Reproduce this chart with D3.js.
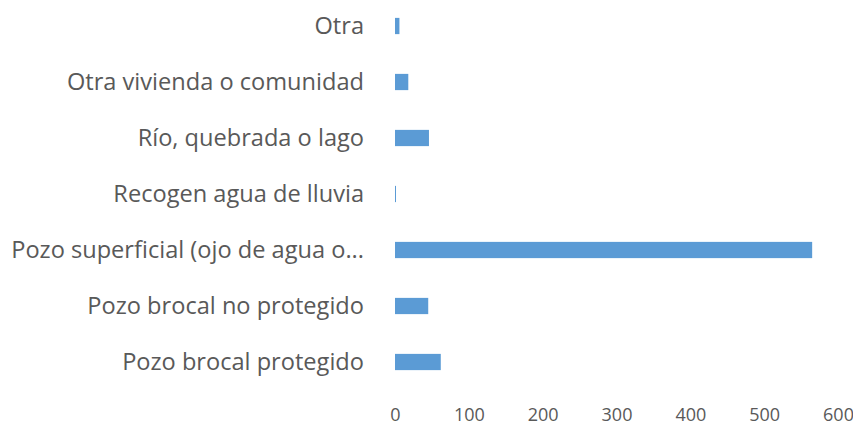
<!DOCTYPE html>
<html>
<head>
<meta charset="utf-8">
<script src="https://cdn.jsdelivr.net/npm/d3@7"></script>
<style>
  html, body { margin: 0; padding: 0; background: #fff; }
  svg { display: block; }
</style>
</head>
<body>
<svg id="chart" width="853" height="425"></svg>
<script>
// Fuentes de agua (número de hogares)
const categories = [
  "Otra",
  "Otra vivienda o comunidad",
  "Río, quebrada o lago",
  "Recogen agua de lluvia",
  "Pozo superficial (ojo de agua o...",
  "Pozo brocal no protegido",
  "Pozo brocal protegido"
];
const values = [6, 18, 46, 1, 565, 45, 62];
const xTicks = [0, 100, 200, 300, 400, 500, 600];

(function () {
  const svg = d3.select("#chart");
  const plotLeft = 395, plotRight = 838, plotTop = -2, plotBottom = 390;

  const x = d3.scaleLinear().domain([0, 600]).range([plotLeft, plotRight]);
  const y = d3.scaleBand().domain(categories).range([plotTop, plotBottom])
    .paddingInner(0.71).paddingOuter(0.355);

  const font = "'Open Sans', sans-serif";

  // Bars
  svg.append("g").selectAll("rect")
    .data(categories)
    .join("rect")
    .attr("x", x(0))
    .attr("y", d => y(d))
    .attr("width", (d, i) => Math.max(1, x(values[i]) - x(0)))
    .attr("height", y.bandwidth())
    .attr("fill", "#5B9BD5");

  // Category labels
  const yAxis = d3.axisLeft(y).tickSize(0).tickPadding(0);
  const gy = svg.append("g").attr("transform", "translate(364,0)").call(yAxis);
  gy.select(".domain").remove();
  gy.selectAll("text")
    .attr("fill", "#595959")
    .style("font-family", font)
    .style("font-size", "23.6px");

  // Value axis labels
  const xAxis = d3.axisBottom(x).tickValues(xTicks).tickSize(0).tickPadding(0)
    .tickFormat(d3.format("d"));
  const gx = svg.append("g").attr("transform", "translate(0,408)").call(xAxis);
  gx.select(".domain").remove();
  gx.selectAll("text")
    .attr("fill", "#595959")
    .style("font-family", font)
    .style("font-size", "18px");
})();
</script>
</body>
</html>
